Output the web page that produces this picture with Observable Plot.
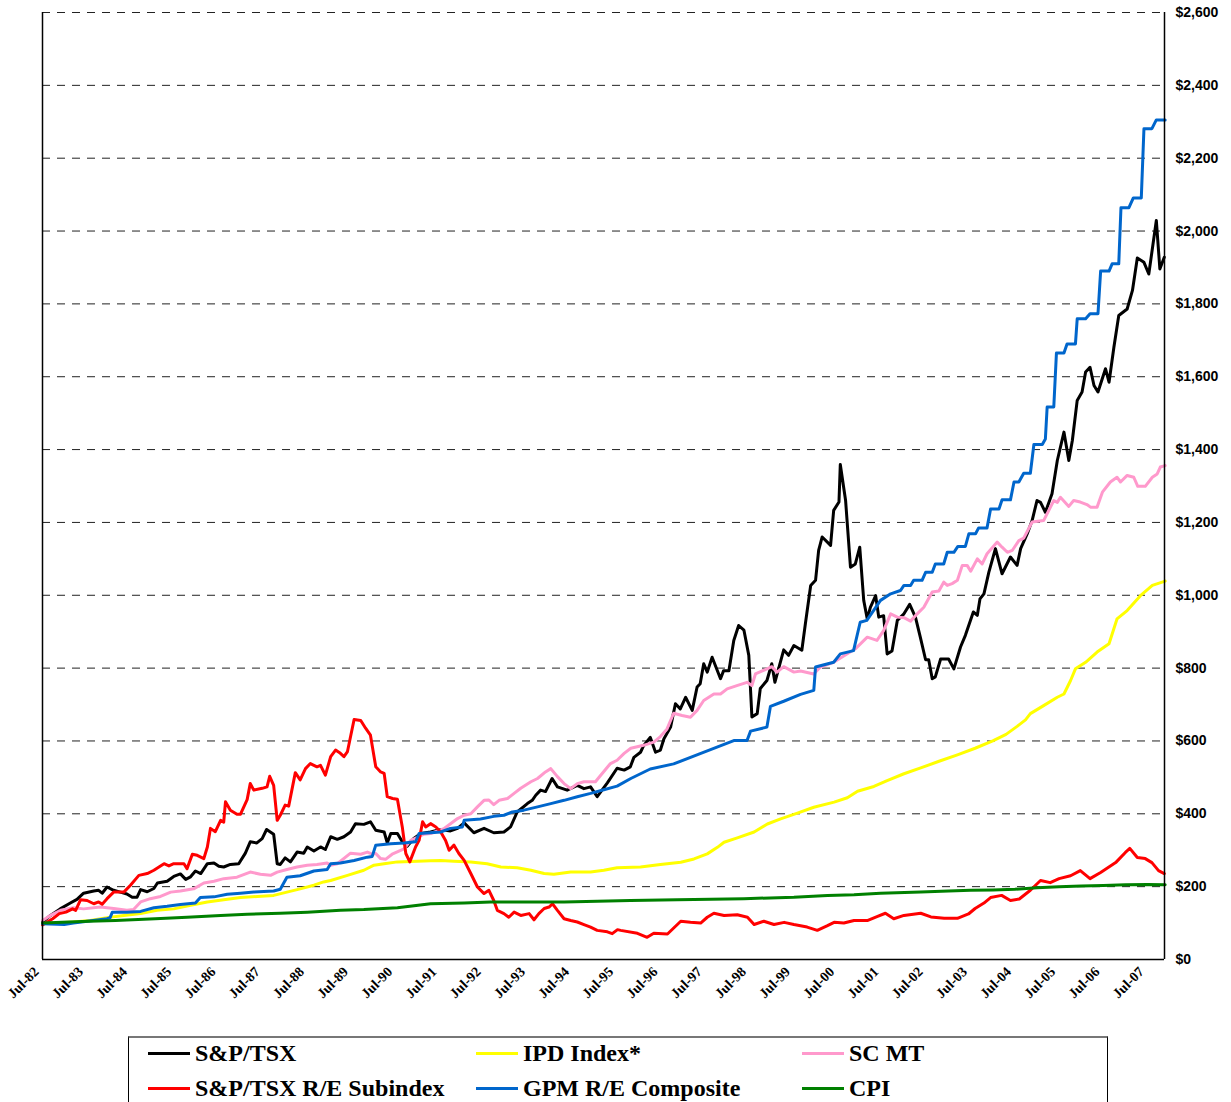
<!DOCTYPE html>
<html><head><meta charset="utf-8">
<script src="https://cdn.jsdelivr.net/npm/d3@7"></script>
<script src="https://cdn.jsdelivr.net/npm/@observablehq/plot@0.6"></script>
<style>
body{margin:0;background:#fff;width:1231px;height:1102px;overflow:hidden;position:relative;}
#chart{position:absolute;left:0;top:0;}
#legend{position:absolute;left:128px;top:1036px;width:980px;height:90px;border:1px solid #000;border-top:2px solid #777;box-sizing:border-box;font-family:"Liberation Serif","Times New Roman",serif;font-weight:bold;font-size:24px;color:#000;}
.item{position:absolute;display:flex;align-items:center;white-space:nowrap;height:26px;}
.swatch{width:42px;height:3px;margin-right:5px;}
</style></head><body>
<div id="chart"></div><div id="legend"></div>
<script>
// ---- data: [decimal year, value] ----
const tsx = [[1982.5,103],[1982.68,121],[1982.9,139],[1983.13,155],[1983.28,165],[1983.43,182],[1983.66,188],[1983.77,190],[1983.85,182],[1983.96,199],[1984.11,190],[1984.26,185],[1984.41,180],[1984.53,171],[1984.64,171],[1984.72,192],[1984.87,186],[1985.02,195],[1985.1,210],[1985.32,215],[1985.47,228],[1985.62,235],[1985.74,220],[1985.85,227],[1985.96,243],[1986.08,236],[1986.23,263],[1986.38,265],[1986.49,256],[1986.6,254],[1986.75,261],[1986.94,263],[1987.09,292],[1987.2,323],[1987.35,320],[1987.47,332],[1987.57,357],[1987.73,344],[1987.81,263],[1987.88,261],[1987.99,279],[1988.11,268],[1988.26,295],[1988.41,292],[1988.49,309],[1988.64,298],[1988.79,309],[1988.9,302],[1989.02,337],[1989.17,330],[1989.32,337],[1989.47,350],[1989.58,373],[1989.77,371],[1989.92,378],[1990.04,355],[1990.23,350],[1990.3,320],[1990.38,346],[1990.53,346],[1990.64,323],[1990.75,311],[1990.9,332],[1991.06,346],[1991.28,350],[1991.51,357],[1991.73,353],[1991.89,360],[1992.04,375],[1992.26,348],[1992.49,360],[1992.71,348],[1992.94,350],[1993.09,364],[1993.24,405],[1993.47,428],[1993.58,437],[1993.66,451],[1993.77,465],[1993.88,461],[1994.03,497],[1994.15,474],[1994.37,465],[1994.6,478],[1994.75,469],[1994.9,474],[1995.05,447],[1995.28,485],[1995.5,525],[1995.66,520],[1995.8,529],[1995.88,555],[1996.03,569],[1996.1,587],[1996.25,610],[1996.37,569],[1996.48,575],[1996.56,606],[1996.71,638],[1996.82,702],[1996.93,688],[1997.05,720],[1997.2,684],[1997.31,748],[1997.38,757],[1997.46,812],[1997.54,789],[1997.65,830],[1997.84,771],[1997.91,793],[1998.03,793],[1998.14,876],[1998.25,917],[1998.37,904],[1998.48,835],[1998.55,666],[1998.67,675],[1998.74,744],[1998.89,766],[1999.0,812],[1999.07,761],[1999.27,850],[1999.38,835],[1999.5,862],[1999.68,849],[1999.76,922],[1999.88,1027],[1999.99,1041],[2000.06,1123],[2000.14,1160],[2000.33,1137],[2000.4,1233],[2000.52,1256],[2000.55,1359],[2000.67,1260],[2000.78,1077],[2000.89,1086],[2000.99,1132],[2001.08,986],[2001.16,935],[2001.23,967],[2001.35,999],[2001.42,940],[2001.53,944],[2001.61,839],[2001.72,847],[2001.84,931],[2001.99,949],[2002.12,975],[2002.25,940],[2002.36,885],[2002.48,823],[2002.55,823],[2002.63,771],[2002.7,776],[2002.82,825],[2003.0,825],[2003.12,798],[2003.27,858],[2003.38,890],[2003.56,954],[2003.65,945],[2003.71,990],[2003.8,1004],[2003.91,1063],[2004.06,1128],[2004.21,1059],[2004.4,1105],[2004.55,1082],[2004.63,1128],[2004.78,1169],[2004.89,1205],[2005.0,1260],[2005.08,1255],[2005.19,1228],[2005.34,1279],[2005.46,1370],[2005.61,1448],[2005.72,1370],[2005.8,1425],[2005.91,1535],[2006.02,1558],[2006.1,1613],[2006.2,1626],[2006.29,1576],[2006.38,1558],[2006.55,1622],[2006.63,1585],[2006.74,1681],[2006.85,1768],[2007.04,1786],[2007.16,1837],[2007.27,1926],[2007.42,1914],[2007.53,1882],[2007.7,2029],[2007.78,1896],[2007.88,1928]];

const reSub = [[1982.5,95],[1982.73,112],[1982.88,126],[1983.03,130],[1983.18,139],[1983.25,135],[1983.36,164],[1983.51,162],[1983.66,153],[1983.77,158],[1983.85,152],[1983.96,167],[1984.11,185],[1984.34,185],[1984.49,204],[1984.68,231],[1984.87,236],[1985.02,245],[1985.25,263],[1985.36,257],[1985.47,263],[1985.7,263],[1985.77,249],[1985.89,289],[1986.0,286],[1986.15,277],[1986.23,309],[1986.3,360],[1986.41,351],[1986.53,382],[1986.6,377],[1986.64,433],[1986.75,410],[1986.9,399],[1986.98,399],[1987.13,439],[1987.2,483],[1987.28,465],[1987.47,470],[1987.58,474],[1987.64,503],[1987.73,478],[1987.81,382],[1987.88,396],[1987.99,424],[1988.07,421],[1988.22,513],[1988.33,493],[1988.45,524],[1988.56,538],[1988.71,529],[1988.79,533],[1988.9,506],[1989.02,557],[1989.13,575],[1989.24,566],[1989.32,557],[1989.4,571],[1989.55,659],[1989.7,656],[1989.81,635],[1989.92,616],[1990.04,529],[1990.15,515],[1990.23,511],[1990.3,447],[1990.42,442],[1990.53,440],[1990.64,364],[1990.72,291],[1990.81,268],[1990.94,309],[1991.02,327],[1991.1,378],[1991.17,364],[1991.28,373],[1991.4,364],[1991.51,350],[1991.62,327],[1991.7,300],[1991.81,314],[1991.92,291],[1992.04,272],[1992.19,236],[1992.34,199],[1992.49,181],[1992.6,190],[1992.71,162],[1992.79,135],[1992.94,126],[1993.05,116],[1993.17,130],[1993.32,121],[1993.51,126],[1993.62,109],[1993.73,126],[1993.85,140],[1993.96,144],[1994.04,153],[1994.15,135],[1994.3,112],[1994.45,107],[1994.6,103],[1994.75,96],[1994.9,89],[1995.05,80],[1995.28,76],[1995.39,71],[1995.51,82],[1995.58,80],[1995.96,72],[1996.18,61],[1996.33,72],[1996.64,70],[1996.94,105],[1997.16,102],[1997.39,100],[1997.54,116],[1997.69,127],[1997.92,121],[1998.22,123],[1998.45,116],[1998.6,96],[1998.82,105],[1999.05,96],[1999.28,102],[1999.5,96],[1999.8,89],[2000.03,80],[2000.26,93],[2000.41,102],[2000.63,100],[2000.86,107],[2001.16,107],[2001.38,118],[2001.57,127],[2001.76,112],[2001.99,121],[2002.37,127],[2002.6,117],[2002.9,113],[2003.2,113],[2003.45,125],[2003.6,140],[2003.8,155],[2003.95,170],[2004.2,176],[2004.4,162],[2004.6,166],[2004.85,190],[2005.08,217],[2005.3,211],[2005.5,222],[2005.76,230],[2005.98,244],[2006.2,222],[2006.44,239],[2006.78,266],[2007.0,294],[2007.1,305],[2007.27,280],[2007.45,277],[2007.6,266],[2007.75,244],[2007.88,236]];

const ipd = [[1982.5,98],[1983.2,103],[1983.58,107],[1983.96,115],[1984.34,121],[1984.72,126],[1985.09,135],[1985.47,139],[1985.85,149],[1986.23,158],[1986.6,164],[1986.98,170],[1987.36,173],[1987.73,176],[1988.03,185],[1988.33,194],[1988.64,204],[1988.86,213],[1989.02,217],[1989.4,231],[1989.77,245],[1990.0,259],[1990.23,263],[1990.53,268],[1991.28,271],[1991.51,272],[1991.81,270],[1992.19,268],[1992.56,263],[1992.87,254],[1993.24,252],[1993.55,245],[1993.85,236],[1994.07,234],[1994.45,240],[1994.9,240],[1995.2,245],[1995.5,252],[1996.03,254],[1996.48,261],[1996.94,267],[1997.24,276],[1997.54,290],[1997.77,308],[1997.92,322],[1998.22,334],[1998.6,350],[1998.9,372],[1999.2,386],[1999.58,402],[1999.95,418],[2000.41,432],[2000.71,444],[2000.94,462],[2001.31,475],[2001.61,491],[2001.99,510],[2002.37,526],[2002.8,545],[2003.2,562],[2003.6,580],[2004.0,600],[2004.3,618],[2004.55,640],[2004.74,658],[2004.85,675],[2005.15,697],[2005.46,720],[2005.61,729],[2005.76,766],[2005.87,798],[2006.1,816],[2006.36,844],[2006.63,867],[2006.81,935],[2007.04,958],[2007.34,999],[2007.61,1027],[2007.9,1039]];

const gpm = [[1982.5,98],[1982.99,96],[1983.2,100],[1983.96,112],[1984.03,115],[1984.08,130],[1984.41,130],[1984.72,132],[1985.02,142],[1985.32,146],[1985.62,151],[1985.96,155],[1986.07,170],[1986.38,172],[1986.68,179],[1986.98,182],[1987.28,185],[1987.73,188],[1987.88,193],[1988.03,226],[1988.33,230],[1988.64,243],[1988.94,247],[1989.02,263],[1989.24,265],[1989.55,272],[1989.85,281],[1989.96,283],[1990.04,314],[1990.38,318],[1990.68,320],[1990.94,323],[1991.02,346],[1991.28,348],[1991.51,350],[1991.62,355],[1991.73,360],[1992.0,364],[1992.04,382],[1992.41,386],[1992.71,393],[1992.94,396],[1993.13,405],[1993.39,410],[1993.7,419],[1994.0,428],[1994.3,437],[1994.6,447],[1994.9,456],[1995.2,466],[1995.5,476],[1995.81,497],[1996.25,523],[1996.78,537],[1997.38,565],[1998.14,601],[1998.44,601],[1998.52,627],[1998.89,638],[1998.97,695],[1999.27,709],[1999.65,728],[1999.95,739],[1999.99,803],[2000.4,816],[2000.55,839],[2000.85,848],[2001.0,926],[2001.15,931],[2001.46,986],[2001.69,1004],[2001.91,1013],[2001.99,1027],[2002.14,1027],[2002.21,1041],[2002.4,1041],[2002.48,1063],[2002.63,1063],[2002.7,1086],[2002.89,1086],[2002.97,1118],[2003.12,1118],[2003.21,1134],[2003.38,1134],[2003.46,1169],[2003.61,1169],[2003.68,1185],[2003.87,1185],[2003.95,1237],[2004.14,1237],[2004.21,1262],[2004.4,1262],[2004.48,1311],[2004.59,1311],[2004.7,1335],[2004.85,1335],[2004.93,1414],[2005.12,1414],[2005.19,1429],[2005.23,1517],[2005.38,1517],[2005.44,1665],[2005.61,1665],[2005.68,1690],[2005.87,1690],[2005.91,1759],[2006.1,1759],[2006.2,1773],[2006.38,1773],[2006.44,1890],[2006.63,1890],[2006.7,1910],[2006.85,1910],[2006.9,2064],[2007.08,2064],[2007.18,2091],[2007.36,2091],[2007.42,2281],[2007.6,2281],[2007.7,2305],[2007.9,2305]];

const scmt = [[1982.5,107],[1982.68,121],[1982.91,135],[1983.2,142],[1983.43,139],[1983.81,144],[1984.11,140],[1984.41,135],[1984.56,137],[1984.72,158],[1984.94,167],[1985.17,173],[1985.4,185],[1985.62,188],[1985.92,194],[1986.15,210],[1986.38,215],[1986.6,222],[1986.9,226],[1987.2,240],[1987.43,234],[1987.66,231],[1987.81,240],[1988.03,247],[1988.26,254],[1988.49,259],[1988.71,261],[1988.94,265],[1989.02,259],[1989.17,263],[1989.47,292],[1989.7,289],[1989.85,295],[1989.96,289],[1990.04,291],[1990.15,277],[1990.26,275],[1990.41,289],[1990.68,304],[1990.83,327],[1990.98,335],[1991.13,344],[1991.28,346],[1991.58,359],[1991.89,387],[1992.04,396],[1992.19,400],[1992.34,419],[1992.49,437],[1992.6,438],[1992.71,425],[1992.83,437],[1993.02,442],[1993.17,456],[1993.32,470],[1993.55,488],[1993.7,497],[1993.88,515],[1994.0,524],[1994.15,502],[1994.3,483],[1994.45,469],[1994.6,483],[1994.75,488],[1995.01,488],[1995.13,506],[1995.35,538],[1995.5,547],[1995.66,566],[1995.81,580],[1996.1,588],[1996.33,597],[1996.48,612],[1996.63,633],[1996.78,676],[1996.97,670],[1997.16,665],[1997.31,684],[1997.46,711],[1997.69,729],[1997.84,729],[1997.99,743],[1998.21,752],[1998.44,761],[1998.55,752],[1998.63,784],[1998.89,798],[1999.0,804],[1999.12,789],[1999.27,804],[1999.5,789],[1999.65,792],[1999.95,784],[2000.1,803],[2000.4,816],[2000.7,839],[2000.89,853],[2001.16,885],[2001.38,876],[2001.53,903],[2001.69,949],[2001.84,940],[2002.0,938],[2002.14,929],[2002.29,949],[2002.44,967],[2002.63,1009],[2002.78,1012],[2002.89,1036],[2002.97,1027],[2003.08,1032],[2003.2,1041],[2003.31,1082],[2003.42,1082],[2003.5,1066],[2003.65,1100],[2003.76,1086],[2003.87,1114],[2004.1,1146],[2004.21,1132],[2004.33,1118],[2004.44,1123],[2004.59,1150],[2004.7,1157],[2004.89,1201],[2005.15,1205],[2005.38,1260],[2005.46,1255],[2005.53,1269],[2005.72,1244],[2005.83,1260],[2005.98,1256],[2006.13,1249],[2006.21,1242],[2006.36,1242],[2006.48,1283],[2006.66,1311],[2006.81,1324],[2006.89,1311],[2007.04,1329],[2007.19,1324],[2007.28,1299],[2007.45,1299],[2007.61,1324],[2007.72,1333],[2007.79,1352],[2007.9,1356]];

const cpi = [[1982.5,100],[1983.55,105],[1984.15,107],[1985.05,112],[1985.77,116],[1986.53,121],[1987.13,124],[1987.88,127],[1988.49,130],[1989.24,135],[1989.77,137],[1990.53,142],[1991.28,153],[1992.04,155],[1992.64,158],[1994.3,158],[1995.05,160],[1995.8,162],[1996.86,164],[1998.37,167],[1999.5,171],[2000.26,176],[2000.86,178],[2001.46,182],[2002.37,185],[2003.0,188],[2003.5,190],[2004.0,191],[2004.5,193],[2005.0,197],[2005.5,200],[2006.0,202],[2006.5,203],[2007.0,205],[2007.5,206],[2007.9,205]];

const seriesNames = ["S&P/TSX","IPD Index*","SC MT","S&P/TSX R/E Subindex","GPM R/E Composite","CPI"];
const seriesColors = ["#000000","#ffff00","#ff99cc","#ff0000","#0066cc","#008000"];
const seriesData = [tsx, ipd, scmt, reSub, gpm, cpi];
const drawOrder = [0, 1, 2, 3, 4, 5];

const xTickLabels = ["Jul-82","Jul-83","Jul-84","Jul-85","Jul-86","Jul-87","Jul-88","Jul-89","Jul-90","Jul-91","Jul-92","Jul-93","Jul-94","Jul-95","Jul-96","Jul-97","Jul-98","Jul-99","Jul-00","Jul-01","Jul-02","Jul-03","Jul-04","Jul-05","Jul-06","Jul-07"];
const yTickValues = [0,200,400,600,800,1000,1200,1400,1600,1800,2000,2200,2400,2600];

const xStart = 1982.5, xEnd = 2007.885;
const xTicks = xTickLabels.map((_, i) => xStart + i);

const chart = Plot.plot({
  width: 1231, height: 1030,
  marginLeft: 42, marginRight: 67, marginTop: 12, marginBottom: 71,
  style: {background: "white", color: "#000"},
  x: {domain: [xStart, xEnd], axis: null},
  y: {domain: [0, 2600], axis: null},
  marks: [
    Plot.ruleY(yTickValues.filter(v => v > 0), {stroke: "#222", strokeWidth: 1, strokeDasharray: "8,7"}),
    ...drawOrder.map(i => Plot.line(seriesData[i], {x: d => d[0], y: d => d[1], stroke: seriesColors[i], strokeWidth: 3, strokeLinejoin: "round"})),
    Plot.ruleX([xStart, xEnd], {stroke: "#000", strokeWidth: 1.5}),
    Plot.ruleY([0], {stroke: "#000", strokeWidth: 1.5}),
    Plot.axisY({anchor: "right", ticks: yTickValues, tickSize: 0, tickPadding: 11,
      tickFormat: d => "$" + d3.format(",")(d),
      fontFamily: "Liberation Sans, Arial, sans-serif", fontWeight: "bold", fontSize: 14}),
    Plot.axisX({ticks: xTicks, tickSize: 0, tickPadding: 10, tickRotate: -45, dx: -6,
      tickFormat: d => xTickLabels[Math.round(d - xStart)],
      fontFamily: "Liberation Serif, Times New Roman, serif", fontWeight: "bold", fontSize: 14})
  ]
});
document.getElementById("chart").appendChild(chart);

// legend
const legend = document.getElementById("legend");
const legendPos = [[19,2],[347,2],[673,2],[19,37],[347,37],[673,37]];
seriesNames.forEach((name, i) => {
  const it = document.createElement("div");
  it.className = "item";
  it.style.left = legendPos[i][0] + "px";
  it.style.top = legendPos[i][1] + "px";
  const sw = document.createElement("span");
  sw.className = "swatch";
  sw.style.background = seriesColors[i];
  const tx = document.createElement("span");
  tx.textContent = name;
  it.appendChild(sw); it.appendChild(tx);
  legend.appendChild(it);
});
</script>
</body></html>
